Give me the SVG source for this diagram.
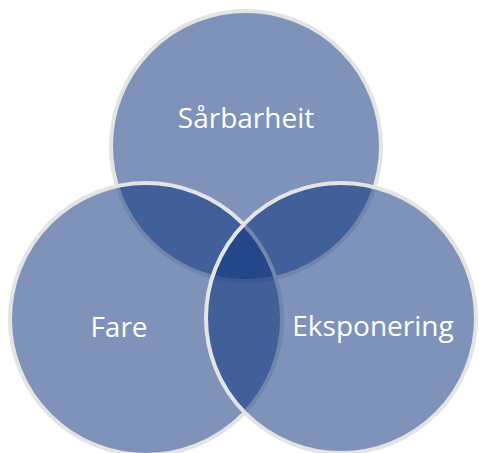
<svg xmlns="http://www.w3.org/2000/svg" width="479" height="453" viewBox="0 0 479 453">
<style>
.c{fill:#0b317c;fill-opacity:0.53;stroke:#e4e4e4;stroke-width:4}
.t{fill:#ffffff;font-family:"Open Sans","Noto Sans",sans-serif;font-size:28px;text-anchor:middle}
</style>
<rect width="479" height="453" fill="#ffffff"/>
<g id="sarbarheit"><circle class="c" cx="246" cy="146" r="135"/></g>
<g id="fare"><circle class="c" cx="146" cy="319" r="136"/></g>
<g id="eksponering"><circle class="c" cx="341" cy="318" r="135"/></g>
<g id="labels">
<text class="t" x="246" y="128">Sårbarheit</text>
<text class="t" x="119" y="337">Fare</text>
<text class="t" x="373" y="336">Eksponering</text>
</g>
</svg>
